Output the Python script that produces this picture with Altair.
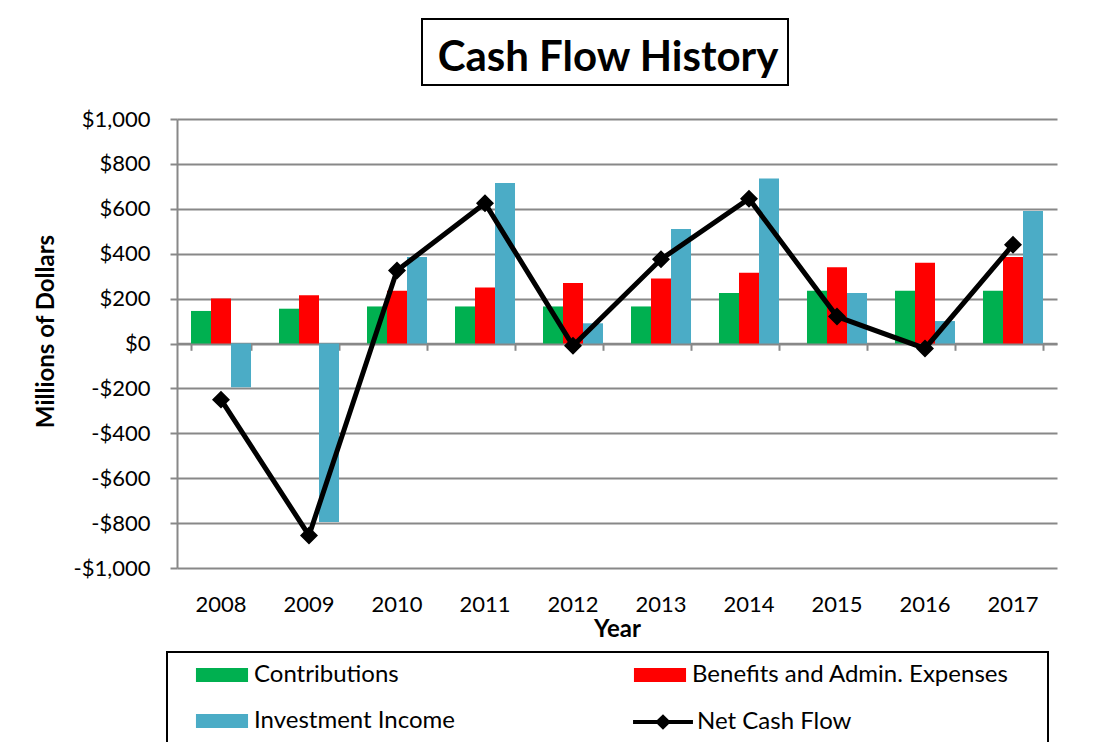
import altair as alt
import pandas as pd

years = ["2008", "2009", "2010", "2011", "2012", "2013", "2014", "2015", "2016", "2017"]
contributions = [145, 155, 165, 165, 165, 165, 225, 235, 235, 235]
benefits = [200, 215, 235, 250, 270, 290, 315, 340, 360, 385]
investment = [-195, -795, 385, 715, 90, 510, 735, 225, 100, 590]
net_cash_flow = [-250, -855, 325, 625, -10, 375, 645, 120, -22, 440]

series_names = ["Contributions", "Benefits and Admin. Expenses", "Investment Income"]
bar_colors = ["#00B050", "#FF0000", "#4BACC6"]
# legend fills its grid column by column, so list the entries in that order
legend_order = ["Contributions", "Investment Income", "Benefits and Admin. Expenses"]
legend_colors = ["#00B050", "#4BACC6", "#FF0000"]
line_name = "Net Cash Flow"
y_ticks = [-1000, -800, -600, -400, -200, 0, 200, 400, 600, 800, 1000]

rows = []
for i, yr in enumerate(years):
    for name, vals in zip(series_names, [contributions, benefits, investment]):
        rows.append({"Year": yr, "series": name, "value": vals[i]})
bars_df = pd.DataFrame(rows)
line_df = pd.DataFrame({"Year": years, "value": net_cash_flow, "series": [line_name] * len(years)})

W, H = 880, 449
GRAY = "#888888"
FONT = "Lato"

x_scale = alt.Scale(domain=years, paddingInner=0.318, paddingOuter=0.159)
y_scale = alt.Scale(domain=[-1000, 1000], nice=False, zero=False)

label_expr = "datum.value < 0 ? '-$' + format(-datum.value, ',') : '$' + format(datum.value, ',')"

y_axis = alt.Axis(
    values=y_ticks, labelExpr=label_expr, title="Millions of Dollars",
    titleFont=FONT, titleFontSize=24, titleFontWeight="bold", titleColor="black",
    titleX=-131, titleY=212, titleAngle=-90, titleBaseline="middle", titleAlign="center",
    labelFont=FONT, labelFontSize=22, labelColor="black", labelPadding=20,
    tickSize=7, tickColor=GRAY, tickWidth=2, domainColor=GRAY, domainWidth=2,
    grid=True, gridColor=GRAY, gridWidth=2,
)

x_axis_labels = alt.Axis(
    orient="bottom", ticks=False, tickSize=0, domain=False, grid=False, labelAngle=0,
    labelFont=FONT, labelFontSize=22, labelColor="black", labelPadding=26,
    title="Year", titleFont=FONT, titleFontSize=24, titleFontWeight="bold", titleColor="black",
    titlePadding=2,
)

x_axis_zero = alt.Axis(
    orient="bottom", offset=-224.7, labels=False, domain=True, domainColor=GRAY, domainWidth=2,
    ticks=True, tickBand="extent", tickSize=7, tickColor=GRAY, tickWidth=2, grid=False, title=None,
)

bars = alt.Chart(bars_df).mark_bar().encode(
    x=alt.X("Year:N", scale=x_scale, axis=x_axis_labels),
    xOffset=alt.XOffset("series:N", sort=series_names,
                        scale=alt.Scale(domain=series_names, paddingInner=0, paddingOuter=0)),
    y=alt.Y("value:Q", scale=y_scale, axis=y_axis),
    color=alt.Color(
        "series:N",
        scale=alt.Scale(domain=legend_order, range=legend_colors),
        legend=alt.Legend(
            orient="none", legendX=31, legendY=542, columns=2, columnPadding=178, rowPadding=20,
            title=None, padding=0, symbolType="M-1.86,-0.5H1.86V0.5H-1.86Z", symbolSize=784,
            symbolStrokeWidth=0, labelFont=FONT, labelFontSize=24, labelColor="black",
            labelOffset=18, labelLimit=500,
        ),
    ),
)

line = alt.Chart(line_df).mark_line(
    strokeWidth=5, color="black",
    point=alt.OverlayMarkDef(shape="diamond", size=230, filled=True, fill="black", color="black"),
).encode(
    x=alt.X("Year:N", scale=x_scale, axis=x_axis_zero),
    y=alt.Y("value:Q", scale=y_scale),
    stroke=alt.Stroke(
        "series:N",
        scale=alt.Scale(domain=[line_name], range=["black"]),
        legend=alt.Legend(
            orient="none", legendX=470, legendY=587, title=None, padding=0,
            symbolType="M-2.14,0H2.14M-0.36,0L0,-0.36L0.36,0L0,0.36Z", symbolSize=784,
            symbolStrokeWidth=4, symbolFillColor="black", symbolStrokeColor="black",
            labelFont=FONT, labelFontSize=24, labelColor="black", labelOffset=18, labelLimit=500,
        ),
    ),
)

box_df = pd.DataFrame({"k": [0]})
title_box = alt.Chart(box_df).mark_rect(fillOpacity=0, stroke="black", strokeWidth=2).encode(
    x=alt.value(245), x2=alt.value(611), y=alt.value(-100), y2=alt.value(-34)
)
legend_box = alt.Chart(box_df).mark_rect(fillOpacity=0, stroke="black", strokeWidth=2).encode(
    x=alt.value(-10), x2=alt.value(871), y=alt.value(533), y2=alt.value(624)
)

chart = alt.layer(bars, line, title_box, legend_box).resolve_axis(x="independent").properties(
    width=W, height=H,
    title=alt.Title("Cash Flow History", font=FONT, fontSize=42, fontWeight="bold", color="black",
                    anchor="middle", frame="group", baseline="alphabetic", offset=-95, dx=-9),
    autosize="none",
    padding={"left": 169, "top": 111, "right": 34, "bottom": 174},
    background="white",
).configure_view(stroke=None)

chart.save("out.html", embed_options={"renderer": "svg", "actions": False})
